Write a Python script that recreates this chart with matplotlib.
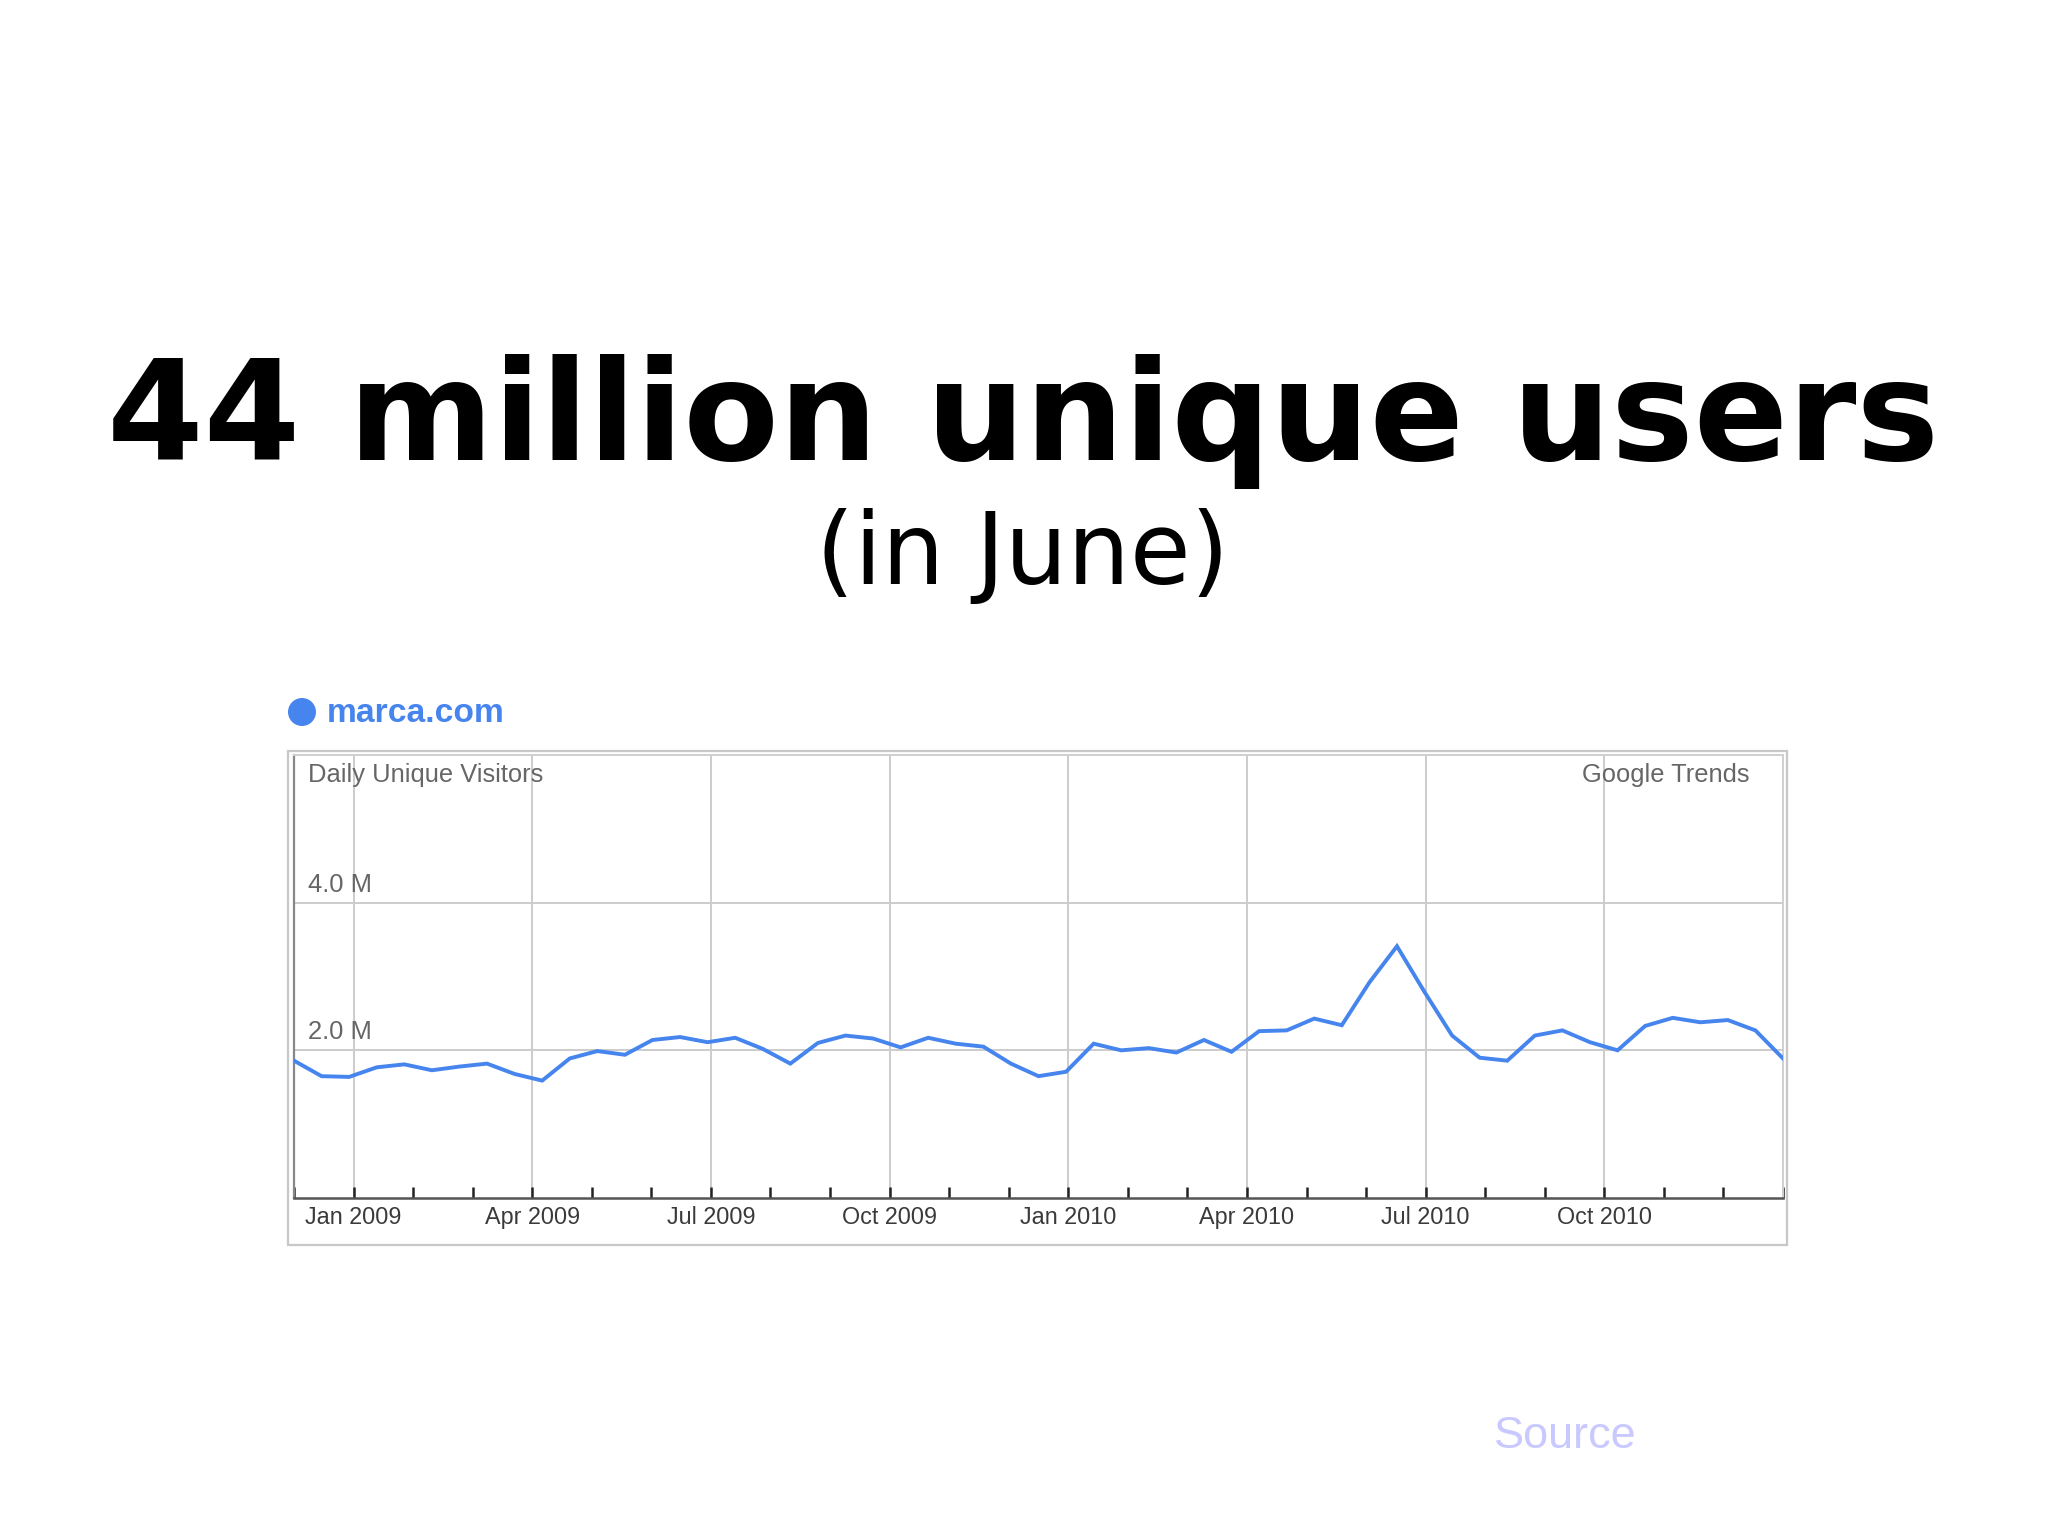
import numpy as np
import matplotlib
matplotlib.use("Agg")
import matplotlib.pyplot as plt
from matplotlib.patches import Rectangle, Ellipse

# ---- data ----
title = "44 million unique users"
subtitle = "(in June)"
series_name = "marca.com"
months = ["Dec 2008", "Jan 2009", "Feb 2009", "Mar 2009", "Apr 2009", "May 2009", "Jun 2009",
          "Jul 2009", "Aug 2009", "Sep 2009", "Oct 2009", "Nov 2009", "Dec 2009",
          "Jan 2010", "Feb 2010", "Mar 2010", "Apr 2010", "May 2010", "Jun 2010",
          "Jul 2010", "Aug 2010", "Sep 2010", "Oct 2010", "Nov 2010", "Dec 2010", "Jan 2011"]
quarter_labels = ["Jan 2009", "Apr 2009", "Jul 2009", "Oct 2009",
                  "Jan 2010", "Apr 2010", "Jul 2010", "Oct 2010"]
visitors_m = [1.86, 1.65, 1.64, 1.77, 1.81, 1.73, 1.78, 1.82, 1.68, 1.59,
              1.89, 1.99, 1.94, 2.14, 2.18, 2.11, 2.17, 2.02, 1.82, 2.10,
              2.20, 2.16, 2.04, 2.17, 2.09, 2.05, 1.82, 1.65, 1.71, 2.09,
              2.00, 2.03, 1.97, 2.14, 1.98, 2.26, 2.27, 2.43, 2.34, 2.92,
              3.41, 2.79, 2.20, 1.90, 1.86, 2.20, 2.27, 2.11, 2.00, 2.33,
              2.44, 2.38, 2.41, 2.27, 1.89]
y_ticks = [2.0, 4.0]
y_tick_labels = ["2.0 M", "4.0 M"]

W, H = 2048, 1535
fig = plt.figure(figsize=(W / 100, H / 100), dpi=100)
fig.patch.set_facecolor("white")

def fx(px):
    return px / W

def fy(py):
    return 1 - py / H

# titles
fig.text(fx(1023), fy(460), title, family="DejaVu Sans", fontweight="bold",
         fontsize=100, ha="center", va="baseline", color="black")
fig.text(fx(1023), fy(584), subtitle, family="DejaVu Sans",
         fontsize=71, ha="center", va="baseline", color="black")

# outer frame
fig.patches.append(Rectangle((fx(288), fy(1245)), fx(1787) - fx(288), fy(751) - fy(1245),
                             transform=fig.transFigure, facecolor="none",
                             edgecolor="#c8c8c8", linewidth=1.6, zorder=-1))

# legend marker + name
blue = "#4684ee"
fig.patches.append(Ellipse((fx(302), fy(712)), width=28 / W, height=28 / H,
                           transform=fig.transFigure, facecolor=blue, edgecolor="none"))
fig.text(fx(327), fy(713), series_name, family="Liberation Sans", fontweight="bold",
         fontsize=24.2, color=blue, ha="left", va="center")

# axes
x0, x1 = 294, 1783
ytop, ybot = 755, 1198
ax = fig.add_axes([fx(x0), fy(ybot), fx(x1) - fx(x0), fy(ytop) - fy(ybot)])
ax.set_facecolor("white")

xpos = np.linspace(0, len(months) - 1, len(visitors_m))
ax.plot(xpos, visitors_m, color=blue, linewidth=2.8, solid_joinstyle="miter", zorder=3)

ax.set_xlim(0, len(months) - 1)
ax.set_ylim(0, 6.0)

quarter_pos = [months.index(m) for m in quarter_labels]
ax.set_xticks(quarter_pos)
ax.set_xticklabels(quarter_labels, family="Liberation Sans", fontsize=16.8, color="#3a3a3a")
ax.set_xticks(range(len(months)), minor=True)
ax.tick_params(axis="x", which="both", direction="in", length=8, width=1.8,
               color="#222222", pad=6)
ax.set_yticks([])

# grid
for q in quarter_pos:
    ax.axvline(q, color="#cccccc", linewidth=1.4, zorder=1)
for yv, lab in zip(y_ticks, y_tick_labels):
    ax.axhline(yv, color="#cccccc", linewidth=1.4, zorder=1)
    ax.annotate(lab, xy=(0, yv), xycoords=("axes fraction", "data"),
                xytext=(14, 6), textcoords="offset pixels",
                family="Liberation Sans", fontsize=18.4, color="#666666",
                ha="left", va="bottom")

ax.text(0.0095, 0.955, "Daily Unique Visitors", transform=ax.transAxes,
        family="Liberation Sans", fontsize=18.4, color="#666666", ha="left", va="center")
ax.text(0.9775, 0.955, "Google Trends", transform=ax.transAxes,
        family="Liberation Sans", fontsize=18.4, color="#666666", ha="right", va="center")

for s in ["top", "right"]:
    ax.spines[s].set_color("#d0d0d0")
    ax.spines[s].set_linewidth(1.4)
ax.spines["left"].set_color("#888888")
ax.spines["left"].set_linewidth(1.6)
ax.spines["bottom"].set_color("#555555")
ax.spines["bottom"].set_linewidth(1.8)

# source link
fig.text(fx(1494), fy(1448), "Source", family="Liberation Sans", fontsize=32.5,
         color="#c9c9ff", ha="left", va="baseline")

fig.savefig("out.png", dpi=100, facecolor="white")
